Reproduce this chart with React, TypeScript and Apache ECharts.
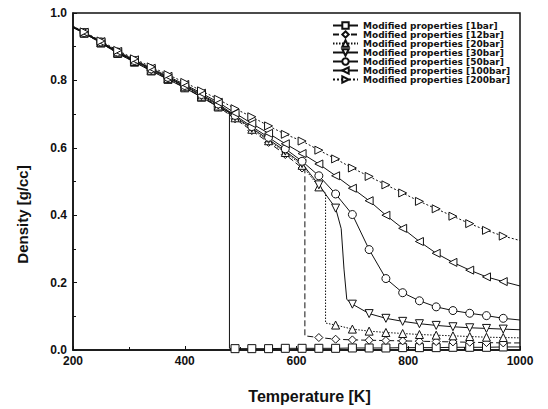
import React, { useEffect, useRef } from "react";
import * as echarts from "echarts";

const temperatures = [200, 220, 250, 280, 310, 340, 370, 400, 430, 460, 490, 520, 550, 580, 610, 640, 670, 700, 730, 760, 790, 820, 850, 880, 910, 940, 970, 1000];

const rho1bar = [0.957, 0.940, 0.911, 0.880, 0.854, 0.828, 0.803, 0.778, 0.750, 0.721, 0.004, 0.004, 0.004, 0.005, 0.005, 0.005, 0.005, 0.006, 0.006, 0.006, 0.007, 0.007, 0.007, 0.008, 0.008, 0.008, 0.009, 0.009];
const rho12bar = [0.957, 0.940, 0.911, 0.881, 0.855, 0.829, 0.804, 0.779, 0.751, 0.722, 0.686, 0.651, 0.616, 0.580, 0.540, 0.037, 0.032, 0.030, 0.029, 0.028, 0.027, 0.026, 0.025, 0.024, 0.023, 0.022, 0.021, 0.021];
const rho20bar = [0.958, 0.941, 0.912, 0.882, 0.856, 0.830, 0.806, 0.781, 0.753, 0.724, 0.689, 0.655, 0.621, 0.586, 0.548, 0.484, 0.074, 0.062, 0.056, 0.052, 0.049, 0.046, 0.044, 0.042, 0.040, 0.038, 0.037, 0.036];
const rho30bar = [0.958, 0.941, 0.913, 0.883, 0.857, 0.832, 0.807, 0.783, 0.755, 0.727, 0.692, 0.658, 0.625, 0.590, 0.553, 0.490, 0.421, 0.136, 0.108, 0.094, 0.085, 0.078, 0.073, 0.069, 0.066, 0.064, 0.062, 0.060];
const rho50bar = [0.959, 0.942, 0.914, 0.884, 0.859, 0.834, 0.809, 0.785, 0.758, 0.730, 0.696, 0.663, 0.631, 0.597, 0.560, 0.517, 0.463, 0.402, 0.298, 0.212, 0.170, 0.146, 0.128, 0.117, 0.109, 0.102, 0.094, 0.089];
const rho100bar = [0.960, 0.943, 0.915, 0.886, 0.861, 0.836, 0.812, 0.788, 0.762, 0.735, 0.703, 0.672, 0.643, 0.612, 0.583, 0.552, 0.517, 0.480, 0.443, 0.400, 0.361, 0.322, 0.287, 0.260, 0.237, 0.217, 0.203, 0.190];
const rho200bar = [0.961, 0.944, 0.917, 0.889, 0.864, 0.840, 0.817, 0.794, 0.769, 0.744, 0.716, 0.692, 0.665, 0.640, 0.620, 0.593, 0.567, 0.540, 0.515, 0.490, 0.466, 0.441, 0.419, 0.397, 0.375, 0.355, 0.338, 0.325];

// phase-transition points (drawn as line only, no marker)
const drop1bar = [[480, 0.706], [480, 0.005]];
const drop12bar = [[615, 0.533], [615, 0.042]];
const drop20bar = [[652, 0.466], [652, 0.080]];
const drop30bar = [[680, 0.36], [685, 0.24], [690, 0.15]];

const seriesNames = [
  "Modified properties [1bar]",
  "Modified properties [12bar]",
  "Modified properties [20bar]",
  "Modified properties [30bar]",
  "Modified properties [50bar]",
  "Modified properties [100bar]",
  "Modified properties [200bar]",
];

const FONT = "'Liberation Sans', Arial, sans-serif";
const LEGEND_FONT = "'DejaVu Sans', sans-serif";

function buildData(values: number[], drops: number[][]) {
  const pts: any[] = temperatures.map((t, i) => ({
    value: [t, values[i]],
    symbol: i === 0 || i === temperatures.length - 1 ? "none" : undefined,
  }));
  const extra = drops.map((d) => ({ value: [d[0], d[1]], symbol: "none" }));
  const all = pts.concat(extra);
  all.sort((a, b) => a.value[0] - b.value[0]);
  return all;
}

export default function App() {
  const ref = useRef<HTMLDivElement>(null);
  useEffect(() => {
    if (!ref.current) return;
    const chart = echarts.init(ref.current, null, { renderer: "svg" });
    const specs = [
      { values: rho1bar, drops: drop1bar, symbol: "rect", rotate: 0, type: "solid" },
      { values: rho12bar, drops: drop12bar, symbol: "diamond", rotate: 0, type: [6, 3] },
      { values: rho20bar, drops: drop20bar, symbol: "triangle", rotate: 0, type: [1.5, 1.5] },
      { values: rho30bar, drops: drop30bar, symbol: "triangle", rotate: 180, type: "solid" },
      { values: rho50bar, drops: [], symbol: "circle", rotate: 0, type: "solid" },
      { values: rho100bar, drops: [], symbol: "triangle", rotate: 90, type: "solid" },
      { values: rho200bar, drops: [], symbol: "triangle", rotate: -90, type: [2, 2] },
    ];
    const series = specs.map((s, i) => ({
      name: seriesNames[i],
      type: "line",
      data: buildData(s.values, s.drops as number[][]),
      symbol: s.symbol,
      symbolRotate: s.rotate,
      symbolSize: 8,
      showAllSymbol: true,
      lineStyle: { color: "#111", width: 1, type: s.type },
      itemStyle: { color: "#fff", borderColor: "#111", borderWidth: 1 },
      emphasis: { disabled: true },
    }));
    chart.setOption({
      animation: false,
      backgroundColor: "#fff",
      grid: { left: 73, right: 28, top: 13, bottom: 57, show: true, borderColor: "#111", borderWidth: 1.5, backgroundColor: "transparent" },
      legend: {
        orient: "vertical",
        left: 332,
        top: 21,
        padding: 0,
        itemWidth: 25,
        itemHeight: 8,
        itemGap: 0,
        textStyle: { fontFamily: LEGEND_FONT, fontSize: 9, fontWeight: "bold", color: "#111", lineHeight: 9 },
        data: seriesNames,
      },
      xAxis: {
        type: "value",
        min: 200,
        max: 1000,
        interval: 200,
        name: "Temperature [K]",
        nameLocation: "middle",
        nameGap: 38,
        nameTextStyle: { fontFamily: FONT, fontSize: 16, fontWeight: "bold", color: "#111", padding: [0, 0, 0, 26] },
        axisLine: { lineStyle: { color: "#111", width: 1.5 } },
        axisTick: { inside: true, length: 4, lineStyle: { color: "#111" } },
        minorTick: { show: true, splitNumber: 2, length: 3, lineStyle: { color: "#111" } },
        splitLine: { show: false },
        axisLabel: { fontFamily: FONT, fontSize: 12, fontWeight: "bold", color: "#111", margin: 5, formatter: (v: number) => String(v) },
      },
      yAxis: {
        type: "value",
        min: 0,
        max: 1,
        interval: 0.2,
        name: "Density [g/cc]",
        nameLocation: "middle",
        nameGap: 43,
        nameTextStyle: { fontFamily: FONT, fontSize: 15, fontWeight: "bold", color: "#111", padding: [0, 66, 0, 0] },
        axisLine: { lineStyle: { color: "#111", width: 1.5 } },
        axisTick: { inside: true, length: 4, lineStyle: { color: "#111" } },
        minorTick: { show: true, splitNumber: 2, length: 3, lineStyle: { color: "#111" } },
        splitLine: { show: false },
        axisLabel: { fontFamily: FONT, fontSize: 12, fontWeight: "bold", color: "#111", margin: 6, formatter: (v: number) => v.toFixed(1) },
      },
      series,
    });
    return () => chart.dispose();
  }, []);
  return <div ref={ref} style={{ position: "absolute", left: 0, top: 0, width: 548, height: 409 }} />;
}
